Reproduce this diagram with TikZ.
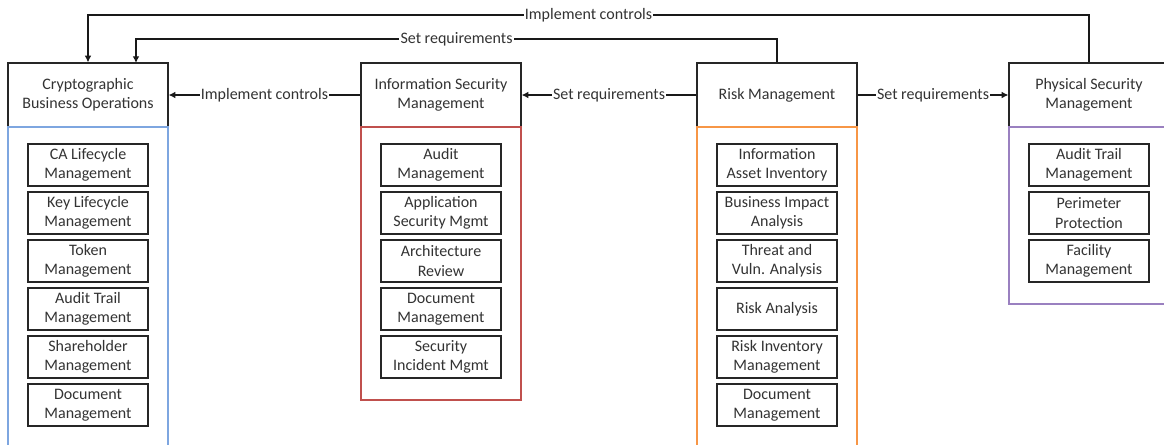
\documentclass[tikz,border=0pt]{standalone}
\usepackage{fontspec}
\setmainfont{Carlito}
\usetikzlibrary{arrows.meta}
\definecolor{cblue}{HTML}{7EA6E0}
\definecolor{cred}{HTML}{C0504D}
\definecolor{corange}{HTML}{F79646}
\definecolor{cpurple}{HTML}{9A80C0}
\definecolor{txt}{HTML}{333333}
\tikzset{
  every node/.style={font=\fontsize{12}{14.4}\selectfont, text=txt},
  header/.style={draw=black!85, line width=0.9pt, minimum width=120pt, minimum height=48pt, align=center, inner sep=0pt},
  item/.style={draw=black!85, line width=0.9pt, minimum width=90pt, minimum height=31.5pt, align=center, inner sep=0pt},
  cont/.style={line width=0.9pt},
  conn/.style={draw=black!90, line width=0.9pt},
  arr/.style={conn, -{Latex[length=5pt,width=5pt]}},
  lbl/.style={fill=white, inner sep=1pt}
}
\begin{document}
\begin{tikzpicture}[x=0.75pt,y=-0.75pt]
\useasboundingbox (0,0) rectangle (1164,444);
\clip (0,0) rectangle (1164,444);
\fill[white] (0,0) rectangle (1164,444);
% headers
\node[header] (crypto) at (88,95) {Cryptographic\\Business Operations};
\node[header] (info) at (441,95) {Information Security\\Management};
\node[header] (risk) at (777,95) {Risk Management};
\node[header] (phys) at (1089,95) {Physical Security\\Management};
% containers
\draw[cont, cblue] (8,127) rectangle (168,460);
\draw[cont, cred] (361,127) rectangle (521,400);
\draw[cont, corange] (697,127) rectangle (857,460);
\draw[cont, cpurple] (1009,127) rectangle (1169,304);
% crypto items
\node[item] (c1) at (88,165) {CA Lifecycle\\Management};
\node[item] (c2) at (88,213) {Key Lifecycle\\Management};
\node[item] (c3) at (88,261) {Token\\Management};
\node[item] (c4) at (88,309) {Audit Trail\\Management};
\node[item] (c5) at (88,357) {Shareholder\\Management};
\node[item] (c6) at (88,405) {Document\\Management};
% info items
\node[item] (i1) at (441,165) {Audit\\Management};
\node[item] (i2) at (441,213) {Application\\Security Mgmt};
\node[item] (i3) at (441,261) {Architecture\\Review};
\node[item] (i4) at (441,309) {Document\\Management};
\node[item] (i5) at (441,357) {Security\\Incident Mgmt};
% risk items
\node[item] (r1) at (777,165) {Information\\Asset Inventory};
\node[item] (r2) at (777,213) {Business Impact\\Analysis};
\node[item] (r3) at (777,261) {Threat and\\Vuln. Analysis};
\node[item] (r4) at (777,309) {Risk Analysis};
\node[item] (r5) at (777,357) {Risk Inventory\\Management};
\node[item] (r6) at (777,405) {Document\\Management};
% physical items
\node[item] (p1) at (1089,165) {Audit Trail\\Management};
\node[item] (p2) at (1089,213) {Perimeter\\Protection};
\node[item] (p3) at (1089,261) {Facility\\Management};
% routing coordinates
\coordinate (topy) at (0,15);
\coordinate (secy) at (0,39);
\coordinate (cin) at (136,63);
% connectors
\draw[arr] (phys.north) -- (phys.north |- topy) -- node[lbl] {Implement controls} (crypto.north |- topy) -- (crypto.north);
\draw[arr] (risk.north) -- (risk.north |- secy) -- node[lbl] {Set requirements} (cin |- secy) -- (cin);
\draw[arr] (info.west) -- node[lbl] {Implement controls} (crypto.east);
\draw[arr] (risk.west) -- node[lbl] {Set requirements} (info.east);
\draw[arr] (risk.east) -- node[lbl] {Set requirements} (phys.west);
\end{tikzpicture}
\end{document}
